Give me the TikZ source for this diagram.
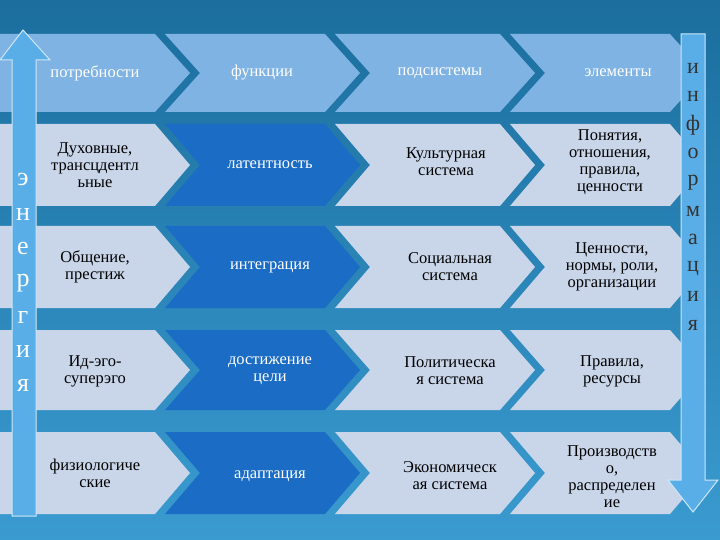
\documentclass[tikz,border=0pt]{standalone}
\usepackage{fontspec}
\setmainfont{Liberation Serif}
\begin{document}
\begin{tikzpicture}[x=1pt,y=-1pt,
  lbl/.style={align=center,font=\fontsize{16.5}{17}\selectfont,text=black},
  hlbl/.style={align=center,font=\fontsize{16.5}{17}\selectfont,text=white},
  let/.style={font=\fontsize{26}{26}\selectfont,text=white}]
\definecolor{bgA}{HTML}{1B6E9E}\definecolor{bgB}{HTML}{3A9BD0}
\definecolor{hdr}{HTML}{7FB3E3}\definecolor{cell}{HTML}{C9D6EA}
\definecolor{dark}{HTML}{1A6CC4}\definecolor{arr}{HTML}{5AAEE8}
\useasboundingbox (0,0) rectangle (720,540);
\shade[top color=bgA,bottom color=bgB] (0,0) rectangle (720,540);
\def\chev#1#2#3#4#5{\fill[#5] (#1,#3) -- (#2,#3) -- (#2+35,{(#3+#4)/2}) -- (#2,#4) -- (#1,#4) -- (#1+35,{(#3+#4)/2}) -- cycle;}
\foreach \ya/\yb/\r in {34/112/0,124/206/1,226/308/2,330/410/3,432/514/4}{
  \ifnum\r=0
    \chev{-40}{155}{\ya}{\yb}{hdr}
    \chev{165}{325}{\ya}{\yb}{hdr}
    \chev{335}{500}{\ya}{\yb}{hdr}
    \chev{510}{670}{\ya}{\yb}{hdr}
  \else
    \chev{-40}{155}{\ya}{\yb}{cell}
    \chev{165}{325}{\ya}{\yb}{dark}
    \chev{335}{500}{\ya}{\yb}{cell}
    \chev{510}{670}{\ya}{\yb}{cell}
  \fi
}
\node[hlbl] (h0) at (95,73) {потребности};
\node[hlbl] (h1) at (262,73) {функции};
\node[hlbl] (h2) at (440,73) {подсистемы};
\node[hlbl] (h3) at (618,73) {элементы};
\node[lbl] (a1) at (95,165) {Духовные,\\трансцдентл\\ьные};
\node[lbl] (a2) at (95,267) {Общение,\\престиж};
\node[lbl] (a3) at (95,371) {Ид-эго-\\суперэго};
\node[lbl] (a4) at (95,473) {физиологиче\\ские};
\node[hlbl] (b1) at (270,165) {латентность};
\node[hlbl] (b2) at (270,267) {интеграция};
\node[hlbl] (b3) at (270,371) {достижение\\цели};
\node[hlbl] (b4) at (270,476) {адаптация};
\node[lbl] (c1) at (446,162) {Культурная\\система};
\node[lbl] (c2) at (450,267) {Социальная\\система};
\node[lbl] (c3) at (450,371) {Политическа\\я система};
\node[lbl] (c4) at (450,476) {Экономическ\\ая система};
\node[lbl] (d1) at (610,162) {Понятия,\\отношения,\\правила,\\ценности};
\node[lbl] (d2) at (612,267) {Ценности,\\нормы, роли,\\организации};
\node[lbl] (d3) at (612,371) {Правила,\\ресурсы};
\node[lbl] (d4) at (612,477) {Производств\\о,\\распределен\\ие};
\fill[arr,draw=white!70!arr,line width=1pt] (12,516) -- (12,60) -- (0,60) -- (23,30) -- (50,60) -- (36,60) -- (36,516) -- cycle;
\fill[arr,draw=white!70!arr,line width=1pt] (681,34) -- (705,34) -- (705,480) -- (718,480) -- (693,512) -- (668,480) -- (681,480) -- cycle;
\foreach \c [count=\i from 0] in {э,н,е,р,г,и,я}
  \node[let] (e\i) at (23,{180+\i*34.3}) {\c};
\foreach \c [count=\i from 0] in {и,н,ф,о,р,м,а,ц,и,я}
  \node[let,text=black!80,font=\fontsize{22}{22}\selectfont] (f\i) at (693,{68+\i*28.6}) {\c};
\end{tikzpicture}
\end{document}
